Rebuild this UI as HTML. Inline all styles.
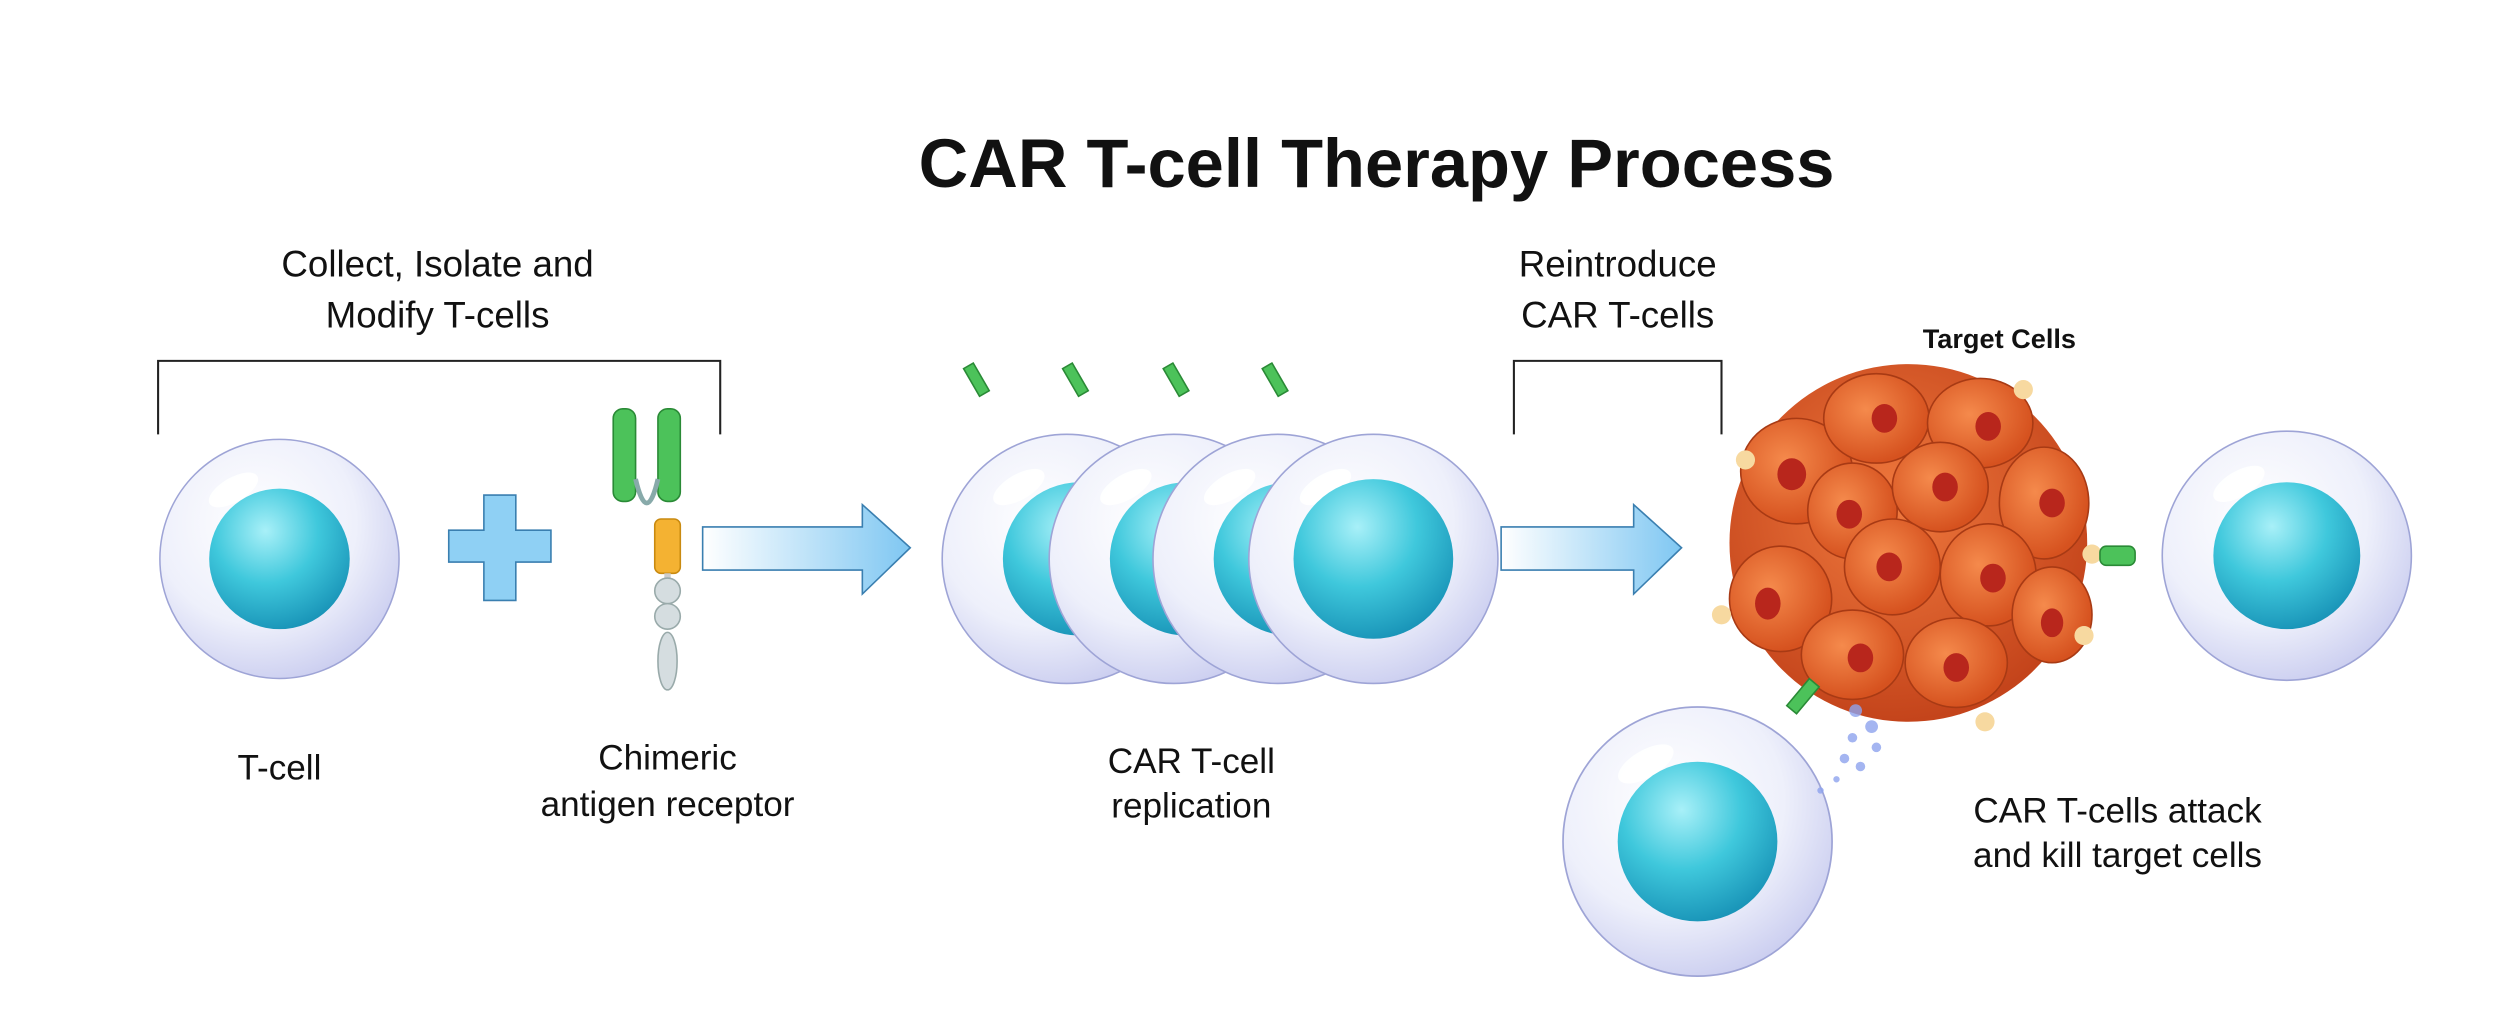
<!DOCTYPE html>
<html><head><meta charset="utf-8"><style>
html,body{margin:0;padding:0;background:#fff;}
svg{display:block;}
text{font-family:"Liberation Sans",sans-serif;fill:#111;}
</style></head><body>
<svg width="2504" height="1030" viewBox="0 0 1568 645" preserveAspectRatio="none" xmlns="http://www.w3.org/2000/svg">
<defs>
<radialGradient id="cell" cx="0.4" cy="0.35" r="0.7">
<stop offset="0" stop-color="#ffffff"/><stop offset="0.6" stop-color="#eef0fb"/><stop offset="1" stop-color="#c9ccef"/></radialGradient>
<radialGradient id="nuc" cx="0.4" cy="0.3" r="0.75">
<stop offset="0" stop-color="#a8f0f8"/><stop offset="0.5" stop-color="#3fc8dc"/><stop offset="1" stop-color="#1690b5"/></radialGradient>
<linearGradient id="arr" x1="0" x2="1"><stop offset="0" stop-color="#ffffff"/><stop offset="1" stop-color="#7fc7f2"/></linearGradient>
<radialGradient id="tum" cx="0.45" cy="0.4" r="0.6">
<stop offset="0" stop-color="#f07a3e"/><stop offset="1" stop-color="#c4441b"/></radialGradient>
<radialGradient id="tc" cx="0.4" cy="0.4" r="0.6"><stop offset="0" stop-color="#f58a4c"/><stop offset="1" stop-color="#d6521f"/></radialGradient>
<g id="tcell"><circle r="78" fill="url(#cell)" stroke="#9ea4d6" stroke-width="1"/><ellipse cx="-30" cy="-45" rx="18" ry="8" fill="#fff" opacity="0.9" transform="rotate(-30 -30 -45)"/></g>
</defs>
<text x="862" y="117" text-anchor="middle" font-size="43" font-weight="bold">CAR T-cell Therapy Process</text>
<text x="274" y="173" text-anchor="middle" font-size="23">Collect, Isolate and</text>
<text x="274" y="205" text-anchor="middle" font-size="23">Modify T-cells</text>
<path d="M99 272V226H451V272" fill="none" stroke="#222" stroke-width="1.3"/>
<text x="1013" y="173" text-anchor="middle" font-size="23">Reintroduce</text>
<text x="1013" y="205" text-anchor="middle" font-size="23">CAR T-cells</text>
<path d="M948 272V226H1078V272" fill="none" stroke="#222" stroke-width="1.3"/>
<text x="1252" y="218" text-anchor="middle" font-size="17" font-weight="bold">Target Cells</text>

<!-- T-cell -->
<g transform="translate(175,350)"><use href="#tcell" transform="scale(0.96)"/><circle r="44" fill="url(#nuc)"/></g>
<!-- plus -->
<path d="M303 310h20v22h22v20h-22v24h-20v-24h-22v-20h22z" fill="#8fd0f4" stroke="#3a7fb0" stroke-width="1"/>
<!-- receptor -->
<rect x="384" y="256" width="14" height="58" rx="6" fill="#4cc25a" stroke="#2a8a36"/>
<rect x="412" y="256" width="14" height="58" rx="6" fill="#4cc25a" stroke="#2a8a36"/>
<path d="M398 300 q7 30 14 0" fill="none" stroke="#8aa" stroke-width="3"/>
<rect x="410" y="325" width="16" height="34" rx="4" fill="#f4b232" stroke="#c98a10"/>
<rect x="416" y="359" width="4" height="10" fill="#ccc"/>
<circle cx="418" cy="370" r="8" fill="#d5dde0" stroke="#9aa"/>
<circle cx="418" cy="386" r="8" fill="#d5dde0" stroke="#9aa"/>
<ellipse cx="418" cy="414" rx="6" ry="18" fill="#d5dde0" stroke="#9aa"/>
<!-- arrows -->
<path d="M440 330H540V316L570 343L540 372V357H440Z" fill="url(#arr)" stroke="#3a7fb0" stroke-width="1"/>
<path d="M940 330H1023V316L1053 343L1023 372V357H940Z" fill="url(#arr)" stroke="#3a7fb0" stroke-width="1"/>
<!-- replication -->
<g transform="translate(668,350)"><use href="#tcell"/><circle cx="8" r="48" fill="url(#nuc)"/></g>
<g transform="translate(735,350)"><use href="#tcell"/><circle cx="8" r="48" fill="url(#nuc)"/></g>
<g transform="translate(800,350)"><use href="#tcell"/><circle cx="8" r="48" fill="url(#nuc)"/></g>
<g transform="translate(860,350)"><use href="#tcell"/><circle cx="0" r="50" fill="url(#nuc)"/></g>
<g fill="#4cc25a" stroke="#2a8a36"><rect x="608" y="228" width="7" height="20" transform="rotate(-30 611 238)"/><rect x="670" y="228" width="7" height="20" transform="rotate(-30 673 238)"/><rect x="733" y="228" width="7" height="20" transform="rotate(-30 736 238)"/><rect x="795" y="228" width="7" height="20" transform="rotate(-30 798 238)"/></g>
<!-- tumor -->
<circle cx="1195" cy="340" r="112" fill="url(#tum)"/>
<g fill="url(#tc)" stroke="#a83a14" stroke-width="1">
<ellipse cx="1125" cy="295" rx="35" ry="33"/><ellipse cx="1175" cy="262" rx="33" ry="28"/><ellipse cx="1240" cy="265" rx="33" ry="28"/>
<ellipse cx="1280" cy="315" rx="28" ry="35"/><ellipse cx="1115" cy="375" rx="32" ry="33"/><ellipse cx="1160" cy="320" rx="28" ry="30"/>
<ellipse cx="1215" cy="305" rx="30" ry="28"/><ellipse cx="1185" cy="355" rx="30" ry="30"/><ellipse cx="1245" cy="360" rx="30" ry="32"/>
<ellipse cx="1285" cy="385" rx="25" ry="30"/><ellipse cx="1160" cy="410" rx="32" ry="28"/><ellipse cx="1225" cy="415" rx="32" ry="28"/>
</g>
<g fill="#b8261c"><ellipse cx="1122" cy="297" rx="9" ry="10"/><ellipse cx="1180" cy="262" rx="8" ry="9"/><ellipse cx="1245" cy="267" rx="8" ry="9"/><ellipse cx="1285" cy="315" rx="8" ry="9"/><ellipse cx="1107" cy="378" rx="8" ry="10"/><ellipse cx="1158" cy="322" rx="8" ry="9"/><ellipse cx="1218" cy="305" rx="8" ry="9"/><ellipse cx="1183" cy="355" rx="8" ry="9"/><ellipse cx="1248" cy="362" rx="8" ry="9"/><ellipse cx="1285" cy="390" rx="7" ry="9"/><ellipse cx="1165" cy="412" rx="8" ry="9"/><ellipse cx="1225" cy="418" rx="8" ry="9"/></g>
<g fill="#f7d9a0"><circle cx="1093" cy="288" r="6"/><circle cx="1267" cy="244" r="6"/><circle cx="1078" cy="385" r="6"/><circle cx="1305" cy="398" r="6"/><circle cx="1243" cy="452" r="6"/><circle cx="1310" cy="347" r="6"/></g>
<!-- right cell -->
<g transform="translate(1432,348)"><use href="#tcell"/><circle r="46" fill="url(#nuc)"/></g>
<rect x="1315" y="342" width="22" height="12" rx="4" fill="#4cc25a" stroke="#2a8a36"/>
<!-- bottom cell -->
<g transform="translate(1063,527)"><use href="#tcell" transform="scale(1.08)"/><circle r="50" fill="url(#nuc)"/></g>
<rect x="1125" y="425" width="8" height="22" fill="#4cc25a" stroke="#2a8a36" transform="rotate(40 1129 436)"/>
<g fill="#8ea3ee" opacity="0.8"><circle cx="1162" cy="445" r="4"/><circle cx="1172" cy="455" r="4"/><circle cx="1160" cy="462" r="3"/><circle cx="1175" cy="468" r="3"/><circle cx="1155" cy="475" r="3"/><circle cx="1165" cy="480" r="3"/><circle cx="1150" cy="488" r="2"/><circle cx="1140" cy="495" r="2"/></g>
<!-- labels -->
<text x="175" y="488" text-anchor="middle" font-size="22">T-cell</text>
<text x="418" y="482" text-anchor="middle" font-size="22">Chimeric</text>
<text x="418" y="511" text-anchor="middle" font-size="22">antigen receptor</text>
<text x="746" y="484" text-anchor="middle" font-size="22">CAR T-cell</text>
<text x="746" y="512" text-anchor="middle" font-size="22">replication</text>
<text x="1326" y="515" text-anchor="middle" font-size="22">CAR T-cells attack</text>
<text x="1326" y="543" text-anchor="middle" font-size="22">and kill target cells</text>
</svg>
</body></html>
